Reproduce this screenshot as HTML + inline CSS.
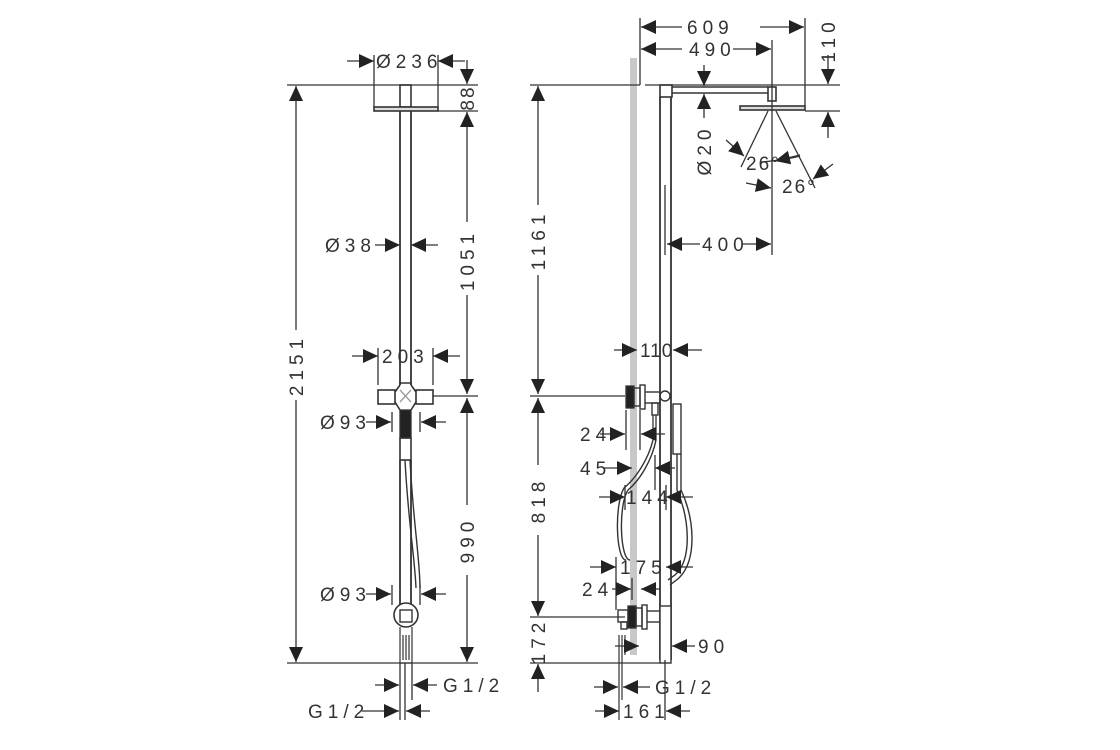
<!DOCTYPE html>
<html><head><meta charset="utf-8"><style>
html,body{margin:0;padding:0;background:#fff;}
svg{display:block}
text{font-family:"Liberation Sans",sans-serif;font-size:19px;fill:#333;letter-spacing:5px}
</style></head><body>
<svg width="1120" height="750" viewBox="0 0 1120 750" xmlns="http://www.w3.org/2000/svg">
<defs>
<marker id="a" markerUnits="userSpaceOnUse" markerWidth="16" markerHeight="14" refX="15" refY="7" orient="auto">
<path d="M0,0 L15,7 L0,14 z" fill="#222"/></marker>
</defs>
<g stroke="#333" stroke-width="1.3" fill="none">
<!-- LEFT VIEW -->
<line x1="287" y1="85" x2="478" y2="85"/>
<line x1="287" y1="663" x2="478" y2="663"/>
<line x1="296" y1="330" x2="296" y2="86" marker-end="url(#a)"/>
<line x1="296" y1="400" x2="296" y2="662" marker-end="url(#a)"/>
<rect x="400" y="85" width="11" height="22" stroke-width="1.6"/>
<rect x="374" y="107" width="64" height="4" stroke-width="1.6" fill="#ddd"/>
<line x1="374" y1="55" x2="374" y2="107"/><line x1="438" y1="55" x2="438" y2="107"/>
<line x1="347" y1="61" x2="374" y2="61" marker-end="url(#a)"/>
<line x1="465" y1="61" x2="438" y2="61" marker-end="url(#a)"/>
<line x1="400" y1="111" x2="400" y2="385" stroke-width="1.8"/>
<line x1="411" y1="111" x2="411" y2="385" stroke-width="1.8"/>
<line x1="438" y1="111" x2="478" y2="111"/>
<line x1="467" y1="60" x2="467" y2="84" marker-end="url(#a)"/>
<line x1="467" y1="128" x2="467" y2="112" marker-end="url(#a)"/>
<line x1="467" y1="128" x2="467" y2="222"/>
<line x1="467" y1="295" x2="467" y2="394" marker-end="url(#a)"/>
<line x1="467" y1="412" x2="467" y2="398" marker-end="url(#a)"/>
<line x1="467" y1="412" x2="467" y2="505"/>
<line x1="467" y1="575" x2="467" y2="662" marker-end="url(#a)"/>
<line x1="433" y1="396" x2="478" y2="396"/>
<line x1="375" y1="245" x2="400" y2="245" marker-end="url(#a)"/>
<line x1="438" y1="245" x2="411" y2="245" marker-end="url(#a)"/>
<line x1="378" y1="348" x2="378" y2="385"/><line x1="433" y1="348" x2="433" y2="385"/>
<line x1="352" y1="356" x2="378" y2="356" marker-end="url(#a)"/>
<line x1="460" y1="356" x2="433" y2="356" marker-end="url(#a)"/>
<rect x="378" y="390" width="17" height="14" stroke-width="1.6"/>
<rect x="416" y="390" width="17" height="14" stroke-width="1.6"/>
<path d="M400 385 L400 383 L411 383 L411 385 M395 392 L400 385 M411 385 L416 392 M395 402 L400 410 M416 402 L411 410" stroke-width="1.6"/>
<path d="M400 390 L411 402 M411 390 L400 402" stroke="#999"/>
<rect x="400" y="410" width="11" height="28" fill="#222"/>
<rect x="400" y="438" width="11" height="22" stroke-width="1.6"/>
<line x1="400" y1="460" x2="400" y2="605" stroke-width="1.8"/>
<line x1="411" y1="460" x2="411" y2="605" stroke-width="1.8"/>
<path d="M405 460 C408 520 415 560 416 588 M410 460 C413 520 420 560 420 588" stroke-width="1.4"/>
<line x1="392" y1="412" x2="392" y2="432"/><line x1="420" y1="412" x2="420" y2="432"/>
<line x1="366" y1="422" x2="391" y2="422" marker-end="url(#a)"/>
<line x1="446" y1="422" x2="421" y2="422" marker-end="url(#a)"/>
<line x1="392" y1="585" x2="392" y2="605"/><line x1="420" y1="585" x2="420" y2="605"/>
<line x1="366" y1="594" x2="391" y2="594" marker-end="url(#a)"/>
<line x1="446" y1="594" x2="421" y2="594" marker-end="url(#a)"/>
<circle cx="406" cy="615" r="12" stroke-width="1.6" fill="#fff"/>
<rect x="400" y="610" width="12" height="12" stroke-width="1.4"/>
<path d="M400 627 L400 663 L412 663 L412 627 M403 635 L403 660 M406 635 L406 660 M409 635 L409 660" stroke-width="1.2"/>
<line x1="400" y1="663" x2="400" y2="720"/><line x1="412" y1="663" x2="412" y2="700"/><line x1="405" y1="663" x2="405" y2="720"/>
<line x1="375" y1="685" x2="399" y2="685" marker-end="url(#a)"/>
<line x1="437" y1="685" x2="413" y2="685" marker-end="url(#a)"/>
<line x1="362" y1="711" x2="399" y2="711" marker-end="url(#a)"/>
<line x1="430" y1="711" x2="406" y2="711" marker-end="url(#a)"/>

<!-- RIGHT VIEW -->
<rect x="630" y="58" width="7" height="597" fill="#c8c8c8" stroke="none"/>
<line x1="530" y1="85" x2="640" y2="85"/><line x1="645" y1="85" x2="840" y2="85"/>
<line x1="538" y1="205" x2="538" y2="86" marker-end="url(#a)"/>
<line x1="538" y1="275" x2="538" y2="394" marker-end="url(#a)"/>
<line x1="530" y1="396" x2="625" y2="396"/>
<line x1="538" y1="412" x2="538" y2="398" marker-end="url(#a)"/>
<line x1="538" y1="412" x2="538" y2="465"/>
<line x1="538" y1="535" x2="538" y2="616" marker-end="url(#a)"/>
<line x1="530" y1="617" x2="625" y2="617"/>
<line x1="530" y1="663" x2="660" y2="663"/>
<line x1="538" y1="692" x2="538" y2="664" marker-end="url(#a)"/>
<rect x="660" y="85" width="12" height="12" stroke-width="1.6"/>
<line x1="660" y1="97" x2="660" y2="660" stroke-width="1.8"/>
<line x1="671" y1="97" x2="671" y2="660" stroke-width="1.8"/>
<line x1="665" y1="185" x2="665" y2="255"/>
<line x1="672" y1="87" x2="768" y2="87" stroke-width="1.6"/>
<line x1="672" y1="93" x2="768" y2="93" stroke-width="1.6"/>
<rect x="768" y="87" width="8" height="14" stroke-width="1.6"/>
<rect x="740" y="106" width="65" height="4" stroke-width="1.6" fill="#ddd"/>
<line x1="640" y1="18" x2="640" y2="85"/>
<line x1="805" y1="18" x2="805" y2="106"/>
<line x1="772" y1="40" x2="772" y2="255"/>
<line x1="682" y1="27" x2="641" y2="27" marker-end="url(#a)"/>
<line x1="760" y1="27" x2="804" y2="27" marker-end="url(#a)"/>
<line x1="682" y1="49" x2="641" y2="49" marker-end="url(#a)"/>
<line x1="733" y1="49" x2="771" y2="49" marker-end="url(#a)"/>
<line x1="805" y1="111" x2="840" y2="111"/>
<line x1="828" y1="55" x2="828" y2="84" marker-end="url(#a)"/>
<line x1="828" y1="138" x2="828" y2="112" marker-end="url(#a)"/>
<line x1="704" y1="65" x2="704" y2="86" marker-end="url(#a)"/>
<line x1="704" y1="118" x2="704" y2="94" marker-end="url(#a)"/>
<line x1="768" y1="111" x2="741" y2="167"/>
<line x1="776" y1="111" x2="815" y2="188"/>
<path d="M761 162 Q785 160 800 156"/>
<line x1="726" y1="140" x2="744" y2="156" marker-end="url(#a)"/>
<line x1="833" y1="164" x2="813" y2="179" marker-end="url(#a)"/>
<line x1="746" y1="183" x2="771" y2="188" marker-end="url(#a)"/>
<line x1="800" y1="155" x2="775" y2="161" marker-end="url(#a)"/>
<line x1="700" y1="244" x2="667" y2="244" marker-end="url(#a)"/>
<line x1="742" y1="244" x2="771" y2="244" marker-end="url(#a)"/>
<line x1="614" y1="350" x2="637" y2="350" marker-end="url(#a)"/>
<line x1="702" y1="350" x2="673" y2="350" marker-end="url(#a)"/>
<rect x="626" y="386" width="8" height="22" fill="#222"/>
<rect x="634" y="388" width="6" height="18" stroke-width="1.4"/>
<rect x="640" y="385" width="5" height="24" stroke-width="1.4"/>
<line x1="645" y1="392" x2="660" y2="392" stroke-width="1.4"/>
<line x1="645" y1="403" x2="660" y2="403" stroke-width="1.4"/>
<circle cx="665" cy="396" r="5" stroke-width="1.4"/>
<rect x="652" y="403" width="6" height="12" stroke-width="1.4"/>
<rect x="673" y="404" width="8" height="50" stroke-width="1.4"/>
<path d="M653 415 L653 440 M656 415 L656 440" stroke-width="1.3"/>
<path d="M656 440 C652 460 640 480 628 490 C618 505 620 560 630 560" stroke-width="1.4"/>
<path d="M653 440 C648 460 636 478 624 488 C614 505 616 560 626 560" stroke-width="1.4"/>
<path d="M677 454 L677 490 C690 520 692 560 675 575 L668 580" stroke-width="1.4"/>
<path d="M681 454 L681 490 C695 520 697 560 679 578 L670 585" stroke-width="1.4"/>
<line x1="626" y1="410" x2="626" y2="450"/>
<line x1="640" y1="410" x2="640" y2="450"/>
<line x1="600" y1="434" x2="625" y2="434" marker-end="url(#a)"/>
<line x1="665" y1="434" x2="641" y2="434" marker-end="url(#a)"/>
<line x1="603" y1="468" x2="632" y2="468" marker-end="url(#a)"/>
<line x1="675" y1="468" x2="655" y2="468" marker-end="url(#a)"/>
<line x1="655" y1="455" x2="655" y2="490"/>
<line x1="599" y1="497" x2="625" y2="497" marker-end="url(#a)"/>
<line x1="693" y1="497" x2="666" y2="497" marker-end="url(#a)"/>
<line x1="625" y1="485" x2="625" y2="510"/>
<line x1="666" y1="485" x2="666" y2="510"/>
<line x1="590" y1="567" x2="616" y2="567" marker-end="url(#a)"/>
<line x1="693" y1="567" x2="666" y2="567" marker-end="url(#a)"/>
<line x1="616" y1="557" x2="616" y2="610"/>
<line x1="632" y1="578" x2="632" y2="600"/>
<line x1="612" y1="589" x2="631" y2="589" marker-end="url(#a)"/>
<line x1="660" y1="589" x2="641" y2="589" marker-end="url(#a)"/>
<rect x="618" y="610" width="10" height="12" stroke-width="1.4"/>
<rect x="621" y="622" width="6" height="7" stroke-width="1.4"/>
<rect x="628" y="606" width="8" height="22" fill="#222"/>
<rect x="636" y="608" width="6" height="18" stroke-width="1.4"/>
<rect x="642" y="605" width="5" height="24" stroke-width="1.4"/>
<line x1="647" y1="611" x2="660" y2="611" stroke-width="1.4"/>
<line x1="647" y1="622" x2="660" y2="622" stroke-width="1.4"/>
<rect x="660" y="606" width="11" height="57" stroke-width="1.4" fill="#fff"/>
<path d="M619 635 L619 720 M622 635 L622 700 M625 635 L625 655" stroke-width="1.2"/>
<line x1="615" y1="646" x2="639" y2="646" marker-end="url(#a)"/>
<line x1="695" y1="646" x2="672" y2="646" marker-end="url(#a)"/>
<line x1="594" y1="687" x2="618" y2="687" marker-end="url(#a)"/>
<line x1="650" y1="687" x2="623" y2="687" marker-end="url(#a)"/>
<line x1="665" y1="660" x2="665" y2="720"/>
<line x1="595" y1="711" x2="619" y2="711" marker-end="url(#a)"/>
<line x1="690" y1="711" x2="666" y2="711" marker-end="url(#a)"/>
</g>
<text x="376" y="68">Ø236</text>
<text transform="translate(474,98) rotate(-90)" text-anchor="middle" style="letter-spacing:2px">88</text>
<text transform="translate(303,365) rotate(-90)" text-anchor="middle">2151</text>
<text transform="translate(474,260) rotate(-90)" text-anchor="middle">1051</text>
<text transform="translate(474,540) rotate(-90)" text-anchor="middle">990</text>
<text x="325" y="252">Ø38</text>
<text x="382" y="363">203</text>
<text x="320" y="429">Ø93</text>
<text x="320" y="601">Ø93</text>
<text x="443" y="692">G1/2</text>
<text x="308" y="718">G1/2</text>
<text x="687" y="34">609</text>
<text x="689" y="56">490</text>
<text transform="translate(835,40) rotate(-90)" text-anchor="middle">110</text>
<text transform="translate(711,150) rotate(-90)" text-anchor="middle">Ø20</text>
<text x="746" y="170" style="letter-spacing:2px">26°</text>
<text x="782" y="193" style="letter-spacing:2px">26°</text>
<text x="702" y="251">400</text>
<text x="640" y="357" style="letter-spacing:1px">110</text>
<text transform="translate(545,240) rotate(-90)" text-anchor="middle">1161</text>
<text transform="translate(545,500) rotate(-90)" text-anchor="middle">818</text>
<text transform="translate(545,641) rotate(-90)" text-anchor="middle">172</text>
<text x="580" y="441">24</text>
<text x="580" y="475">45</text>
<text x="626" y="504">144</text>
<text x="620" y="574">175</text>
<text x="582" y="596">24</text>
<text x="698" y="653">90</text>
<text x="655" y="694">G1/2</text>
<text x="623" y="718">161</text>
</svg>
</body></html>
